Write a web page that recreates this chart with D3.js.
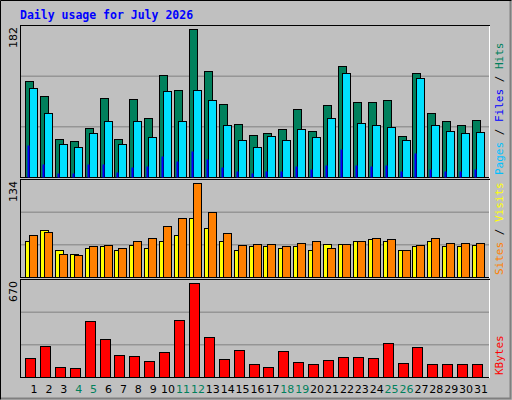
<!DOCTYPE html><html><head><meta charset="utf-8"><script src="https://cdn.jsdelivr.net/npm/d3@7"></script>
<style>body{margin:0;background:#fff}</style></head><body><svg id="c" width="512" height="400"></svg><script>
const days=d3.range(1,32);
const weekends=[4,5,11,12,18,19,25,26];
const hits=[118,100,47,44,60,97,47,96,72,125,107,182,130,90,65,52,54,59,84,57,89,136,92,92,95,50,128,79,69,64,70];
const files=[110,79,40,37,54,69,40,69,49,106,69,107,95,64,46,37,50,46,59,49,72,128,67,64,62,45,122,64,57,54,55];
const pages=[39,16,5,5,16,16,6,12,14,26,20,32,22,12,7,5,7,7,14,10,15,35,15,14,15,7,30,10,7,7,10];
const visits=[52,67,38,33,42,44,39,45,42,52,60,84,70,52,39,44,44,42,44,38,47,47,52,54,52,38,44,51,44,44,45];
const sites=[60,64,33,31,44,45,42,52,55,73,84,134,93,63,45,47,47,44,48,52,41,47,52,55,54,38,45,55,48,48,48];
const kbytes=[138,218,73,66,400,269,160,153,117,175,408,670,284,131,189,95,73,182,109,95,124,146,146,138,240,102,211,95,95,95,95];
const maxLabels=["182","134","670"];
const svg=d3.select("#c");
svg.append("rect").attr("width",512).attr("height",400).attr("fill","#C0C0C0");
svg.append("path").attr("d","M0.5,399.5V0.5H511.5").attr("stroke","#000").attr("fill","none");
svg.append("path").attr("d","M1,398.5H510.5V1").attr("stroke","#808080").attr("stroke-width",2).attr("fill","none");
svg.append("text").attr("x",20).attr("y",19).attr("fill","#0000FF").attr("font-family","DejaVu Sans Mono").attr("font-weight","bold").attr("font-size",11.5).text("Daily usage for July 2026");
const x=d3.scaleLinear().domain([1,31]).range([34,481]);
const panels=[{t:25,b:177},{t:179,b:277},{t:279,b:377}];
panels.forEach((p,i)=>{
  svg.append("rect").attr("x",20.5).attr("y",p.t+0.5).attr("width",469).attr("height",p.b-p.t).attr("fill","#C0C0C0").attr("stroke","#000");
  svg.append("line").attr("x1",489.5).attr("x2",489.5).attr("y1",p.t+1).attr("y2",p.b+1).attr("stroke","#fff");
  const h=p.b-p.t;
  [1,2].forEach(k=>svg.append("line").attr("x1",21).attr("x2",489).attr("y1",p.t+0.5+h*k/3).attr("y2",p.t+0.5+h*k/3).attr("stroke","#808080"));
  svg.append("text").attr("transform",`translate(17,${p.t+2}) rotate(-90)`).attr("text-anchor","end").attr("font-family","DejaVu Sans").attr("font-size",11).text(maxLabels[i]);
});
function bars(data,max,p,off,w,col){
  const y=d3.scaleLinear().domain([0,max]).range([p.b,p.t+4]);
  svg.append("g").selectAll("rect").data(data).join("rect")
   .attr("x",(d,i)=>Math.round(x(days[i]))-9+off+0.5).attr("y",d=>Math.round(y(d))+0.5)
   .attr("width",w).attr("height",d=>p.b-Math.round(y(d))).attr("fill",col).attr("stroke",w>3?"#000":"none");
}
bars(hits,182,panels[0],0,8,"#00805C");
bars(files,182,panels[0],4,8,"#00E0FF");
bars(pages,182,panels[0],2,2,"#0000FF");
bars(visits,134,panels[1],0,8,"#FFFF00");
bars(sites,134,panels[1],4,8,"#FF8000");
bars(kbytes,670,panels[2],0,10,"#FF0000");
svg.append("g").selectAll("text").data(days).join("text").attr("x",d=>x(d)).attr("y",393).attr("text-anchor","middle")
 .attr("font-family","DejaVu Sans").attr("font-size",11).attr("fill",d=>weekends.includes(d)?"#00805C":"#000").text(d=>d);
function vlabel(yb,parts){
  const t=svg.append("text").attr("transform",`translate(503,${yb}) rotate(-90)`).attr("font-family","DejaVu Sans Mono").attr("font-size",11);
  parts.forEach(([s,c])=>t.append("tspan").attr("fill",c).text(s));
}
vlabel(175,[["Pages","#00C0FF"],[" / ","#000"],["Files","#0000FF"],[" / ","#000"],["Hits","#00805C"]]);
vlabel(275,[["Sites","#FF8000"],[" / ","#000"],["Visits","#FFFF00"]]);
vlabel(375,[["KBytes","#FF0000"]]);
</script></body></html>
